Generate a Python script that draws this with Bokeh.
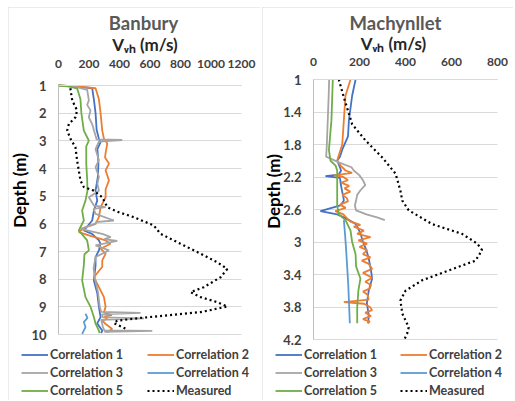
import math
from bokeh.plotting import figure
from bokeh.models import Range1d, FixedTicker, Label, Legend, LegendItem, NumeralTickFormatter, Grid
from bokeh.layouts import row
from bokeh.embed import file_html
from bokeh.resources import INLINE

FONT = "Lato"
C1, C2, C3, C4, C5 = "#4472C4", "#ED7D31", "#A5A5A5", "#5B9BD5", "#70AD47"
TXT = "#595959"
DARK = "#262626"

# ---------------- Banbury data ----------------
b_xticks = [0, 200, 400, 600, 800, 1000, 1200]
b_yticks = [1, 2, 3, 4, 5, 6, 7, 8, 9, 10]

b1_d = [1.0, 1.03, 1.1, 1.5, 2.0, 2.6, 2.93, 3.05, 3.3, 3.8, 4.3, 4.8, 5.16, 5.52, 5.88, 6.24, 6.36, 6.6, 6.72, 6.96, 7.2, 7.5, 8.05, 8.5, 9.0, 9.37, 9.6, 9.86, 9.95]
b1_v = [0, 110, 221, 232, 243, 250, 265, 276, 255, 262, 258, 243, 254, 232, 221, 166, 220, 265, 275, 265, 243, 243, 232, 254, 265, 276, 254, 287, 280]

b2_d = [1.0, 1.03, 1.1, 1.5, 2.0, 2.63, 2.93, 3.1, 3.4, 3.6, 3.82, 4.07, 4.43, 4.75, 5.04, 5.4, 5.76, 6.0, 6.12, 6.3, 6.42, 6.6, 6.72, 6.9, 7.08, 7.32, 7.55, 7.93, 8.29, 8.65, 9.0, 9.2, 9.3, 9.35, 9.43, 9.5, 9.62, 9.8, 9.92]
b2_v = [0, 120, 243, 265, 276, 287, 298, 320, 310, 305, 331, 309, 331, 309, 309, 276, 265, 243, 177, 133, 199, 309, 341, 276, 309, 287, 287, 232, 265, 298, 309, 298, 350, 298, 320, 287, 309, 352, 320]

b3_d = [1.0, 1.03, 1.16, 1.54, 1.7, 1.9, 2.15, 2.4, 2.82, 2.95, 2.97, 3.03, 3.3, 3.7, 3.95, 4.3, 4.55, 4.8, 5.04, 5.34, 5.4, 5.46, 5.64, 5.88, 5.94, 6.0, 6.18, 6.36, 6.48, 6.55, 6.62, 6.78, 6.96, 7.2, 7.6, 8.0, 8.5, 9.0, 9.18, 9.22, 9.27, 9.38, 9.42, 9.47, 9.7, 9.85, 9.87, 9.9]
b3_v = [0, 100, 188, 199, 188, 210, 199, 221, 243, 250, 418, 265, 243, 265, 243, 265, 255, 265, 199, 232, 309, 230, 243, 363, 245, 243, 144, 287, 342, 300, 385, 243, 331, 243, 230, 240, 260, 270, 280, 538, 285, 290, 560, 280, 290, 300, 615, 300]

b4_d = [9.25, 9.4, 9.55, 9.73, 9.98]
b4_v = [177, 190, 166, 177, 155]

b5_d = [1.0, 1.03, 1.1, 1.5, 2.0, 2.63, 2.87, 2.99, 3.2, 3.82, 4.4, 4.8, 5.16, 5.52, 5.88, 6.24, 6.6, 6.96, 7.1, 7.5, 8.05, 8.65, 9.0, 9.37, 9.61, 9.86, 9.95]
b5_v = [0, 60, 122, 144, 150, 166, 188, 199, 182, 182, 188, 190, 177, 155, 166, 133, 188, 199, 170, 166, 155, 177, 210, 232, 243, 265, 270]

bm_d = [1.1, 1.16, 1.54, 1.9, 2.15, 2.39, 2.63, 2.93, 3.23, 3.71, 4.07, 4.43, 4.67, 4.8, 5.04, 5.4, 5.58, 5.76, 6.06, 6.36, 6.72, 7.08, 7.39, 7.63, 7.93, 8.29, 8.47, 8.65, 8.83, 8.99, 9.19, 9.31, 9.40, 9.50, 9.59, 9.79]
bm_v = [79, 79, 90, 122, 111, 68, 57, 79, 111, 122, 133, 144, 166, 232, 287, 320, 396, 494, 625, 669, 800, 932, 1041, 1107, 1063, 953, 866, 932, 1041, 1107, 932, 713, 538, 385, 363, 440]

# ---------------- Machynllet data ----------------
m_xticks = [0, 200, 400, 600, 800]
m_yticks = [1, 1.4, 1.8, 2.2, 2.6, 3, 3.4, 3.8, 4.2]

m1_d = [1.0, 1.2, 1.5, 1.7, 1.87, 1.95, 2.0, 2.06, 2.12, 2.17, 2.19, 2.21, 2.28, 2.37, 2.45, 2.49, 2.55, 2.62, 2.66, 2.7, 2.78, 2.9, 3.0, 3.1, 3.2, 3.35, 3.45, 3.6, 3.75, 3.9, 4.0]
m1_v = [183, 168, 154, 150, 124, 115, 103, 112, 120, 110, 52, 115, 118, 124, 130, 132, 117, 30, 103, 135, 185, 205, 215, 230, 240, 250, 255, 240, 232, 240, 238]

m2_d = [1.0, 1.2, 1.5, 1.8, 1.95, 2.0, 2.06, 2.12, 2.15, 2.18, 2.2, 2.24, 2.27, 2.31, 2.34, 2.38, 2.42, 2.46, 2.5, 2.54, 2.58, 2.62, 2.66, 2.72, 2.75, 2.79, 2.81, 2.86, 2.9, 2.94, 2.98, 3.02, 3.06, 3.1, 3.15, 3.19, 3.23, 3.27, 3.33, 3.38, 3.44, 3.49, 3.53, 3.57, 3.61, 3.65, 3.71, 3.74, 3.76, 3.8, 3.84, 3.87, 3.91, 3.95, 3.98, 4.0]
m2_v = [161, 139, 132, 125, 108, 103, 118, 139, 168, 90, 130, 150, 120, 155, 135, 160, 125, 145, 150, 115, 140, 95, 130, 150, 161, 204, 175, 219, 190, 248, 195, 233, 200, 233, 215, 248, 210, 240, 255, 215, 255, 225, 250, 245, 215, 235, 240, 132, 220, 245, 255, 225, 250, 215, 245, 235]

m3_d = [1.0, 1.2, 1.5, 1.8, 1.95, 2.02, 2.08, 2.12, 2.18, 2.24, 2.3, 2.36, 2.42, 2.49, 2.55, 2.61, 2.66, 2.70, 2.73]
m3_v = [68, 66, 62, 58, 55, 110, 165, 175, 200, 215, 225, 205, 190, 185, 180, 185, 230, 280, 310]

m4_d = [2.73, 2.9, 3.1, 3.52, 4.0]
m4_v = [132, 137, 142, 151, 158]

m5_d = [1.0, 1.5, 1.87, 2.0, 2.06, 2.12, 2.3, 2.55, 2.66, 2.73, 2.86, 3.0, 3.15, 3.3, 3.45, 3.6, 3.8, 4.0]
m5_v = [84, 78, 67, 74, 96, 103, 103, 103, 110, 139, 161, 168, 183, 185, 204, 195, 190, 190]

mm_d = [1.0, 1.22, 1.55, 1.75, 1.96, 2.16, 2.37, 2.49, 2.61, 2.78, 2.90, 3.02, 3.10, 3.23, 3.35, 3.47, 3.60, 3.72, 3.88, 4.05, 4.13, 4.21]
mm_v = [110, 132, 168, 226, 299, 357, 378, 386, 414, 516, 646, 712, 733, 704, 588, 473, 400, 378, 386, 414, 407, 393]

legend_labels = ["Correlation 1", "Correlation 2", "Correlation 3", "Correlation 4", "Correlation 5", "Measured"]
x_title = "V\u1d65\u2095 (m/s)"
y_title = "Depth (m)"


def make_panel(title, xticks, yticks, series, meas, size, box, pos, fmt):
    # size: canvas (w, h); box: plot-area pixel box (left, top, right, bottom) in canvas pixels
    W, H = size
    L, T, R, B = box
    x0, x1 = xticks[0], xticks[-1]
    y0, y1 = yticks[0], yticks[-1]
    kx = (x1 - x0) / (R - L)
    ky = (y1 - y0) / (B - T)
    xr = Range1d(x0 - L * kx, x1 + (W - R) * kx)
    yr = Range1d(y1 + (H - B) * ky, y0 - T * ky)

    def tomap(px, py):
        return (x0 + (px - L) * kx, y0 + (py - T) * ky)

    p = figure(width=W, height=H, title=None, x_range=xr, y_range=yr,
               min_border=0, min_border_left=0, min_border_right=0, min_border_top=0, min_border_bottom=0,
               x_axis_location="above", output_backend="svg", toolbar_location=None,
               margin=pos["margin"], styles={"outline": "1px solid #d9d9d9", "outline-offset": "-1px"})
    p.outline_line_color = None
    p.background_fill_color = "white"
    p.border_fill_color = "white"
    p.xgrid.visible = False
    p.ygrid.grid_line_color = "#d9d9d9"
    p.ygrid.grid_line_width = 1
    if "cross_bounds" in Grid.properties():
        p.ygrid.cross_bounds = (x0, x1)
    else:
        p.ygrid.visible = False
        p.segment(x0=[x0] * len(yticks), x1=[x1] * len(yticks), y0=yticks, y1=yticks,
                  line_color="#d9d9d9", line_width=1)
    p.xaxis.ticker = FixedTicker(ticks=xticks)
    p.yaxis.ticker = FixedTicker(ticks=yticks)
    p.yaxis.formatter = NumeralTickFormatter(format=fmt)
    p.xaxis.fixed_location = y0
    p.yaxis.fixed_location = x0
    p.xaxis.bounds = (x0, x1)
    p.yaxis.bounds = (y0, y1)
    for ax in (p.xaxis, p.yaxis):
        ax.major_tick_line_color = None
        ax.minor_tick_line_color = None
        ax.major_tick_out = 0
        ax.major_tick_in = 0
        ax.minor_tick_out = 0
        ax.major_label_text_font = FONT
        ax.major_label_text_font_style = "bold"
        ax.major_label_text_color = "#404040"
    p.xaxis.axis_line_color = "#d9d9d9"
    p.yaxis.axis_line_color = "#bfbfbf"
    p.xaxis.major_label_text_font_size = "12px"
    p.yaxis.major_label_text_font_size = "13px"
    p.xaxis.major_label_standoff = pos["xstand"]
    p.yaxis.major_label_standoff = 12

    colors = [C1, C2, C3, C4, C5]
    rs = []
    for (d, v), c in zip(series, colors):
        rs.append(p.line(v, d, line_color=c, line_width=1.8))
    md, mv = meas
    rs.append(p.line(mv, md, line_color="black", line_width=2.2, line_dash="2 3"))

    common = dict(orientation="vertical", padding=0, margin=0, spacing=3,
                  glyph_width=27, glyph_height=15, label_height=15, label_standoff=2,
                  border_line_color=None, background_fill_alpha=0,
                  label_text_font=FONT, label_text_font_style="bold",
                  label_text_font_size="12.5px", label_text_color="#404040")
    col1 = [LegendItem(label=legend_labels[i], renderers=[rs[i]]) for i in (0, 2, 4)]
    col2 = [LegendItem(label=legend_labels[i], renderers=[rs[i]]) for i in (1, 3, 5)]
    p.add_layout(Legend(items=col1, location=pos["leg1"], **common))
    p.add_layout(Legend(items=col2, location=pos["leg2"], **common))

    def lab(px, py, text, fsize, angle=0, color=DARK):
        x, y = tomap(px, py)
        p.add_layout(Label(x=x, y=y, text=text, text_align="center", text_baseline="middle",
                           angle=angle, text_font=FONT, text_font_style="bold",
                           text_font_size=fsize, text_color=color))
    lab(*pos["title"], title, "18.5px", color=TXT)
    lab(*pos["vlab"], x_title, "17px")
    lab(*pos["depth"], y_title, "17px", angle=math.pi / 2, color="#000000")
    return p


# left panel canvas origin at global (8, 7); right panel canvas origin at global (262, 7)
pL = make_panel("Banbury", b_xticks, b_yticks,
                [(b1_d, b1_v), (b2_d, b2_v), (b3_d, b3_v), (b4_d, b4_v), (b5_d, b5_v)], (bm_d, bm_v),
                size=(252, 393), box=(50, 78, 233, 327),
                pos=dict(margin=(7, 0, 1, 8), xstand=18, leg1=(13, 2), leg2=(139, 2),
                         title=(135, 15), vlab=(136.5, 37), depth=(11, 183)),
                fmt="0")
pR = make_panel("Machynllet", m_xticks, m_yticks,
                [(m1_d, m1_v), (m2_d, m2_v), (m3_d, m3_v), (m4_d, m4_v), (m5_d, m5_v)], (mm_d, mm_v),
                size=(251, 393), box=(51, 72, 235, 332),
                pos=dict(margin=(7, 0, 1, 2), xstand=14, leg1=(13, 2), leg2=(138, 2),
                         title=(133, 15), vlab=(131, 35.5), depth=(11, 184)),
                fmt="0.[0]")

layout = row(pL, pR, spacing=0)
open("out.html", "w").write(file_html(layout, INLINE))
